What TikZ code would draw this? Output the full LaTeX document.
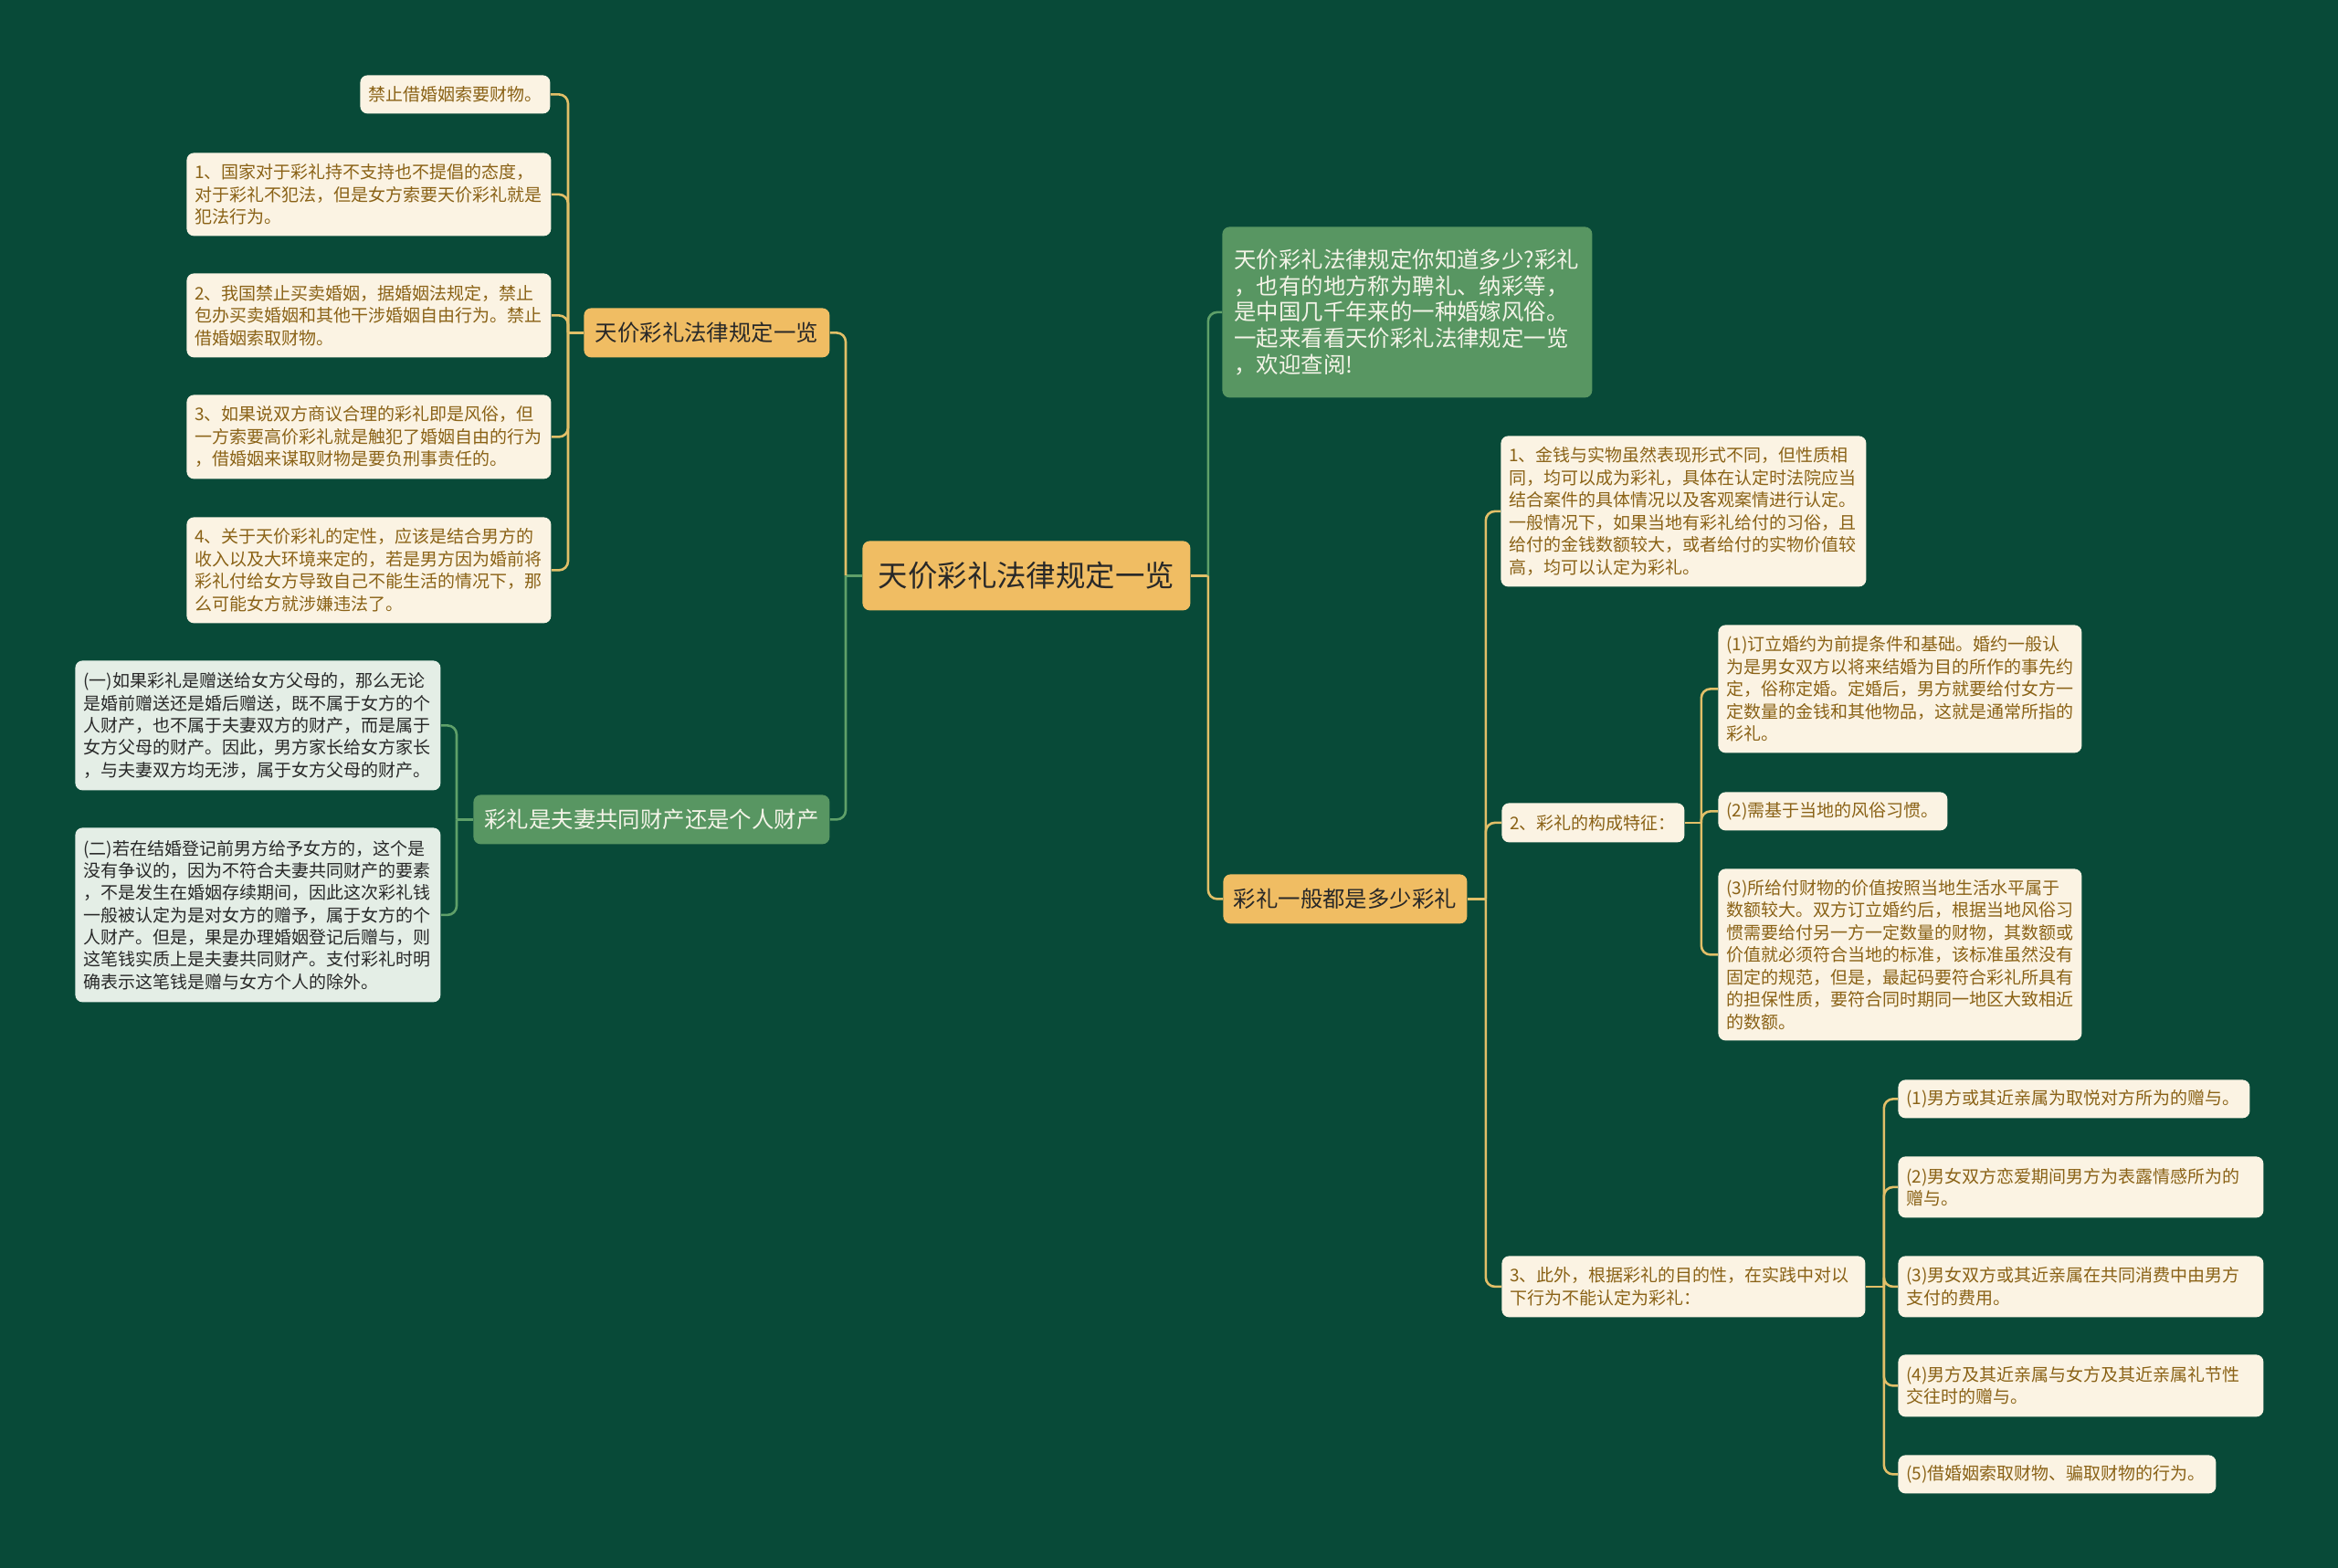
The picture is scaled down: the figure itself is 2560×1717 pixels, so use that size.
\documentclass[tikz,border=0pt]{standalone}
\usepackage{fontspec}
\setmainfont{Noto Sans CJK SC}
\definecolor{bgc}{RGB}{8,74,56}
\definecolor{orangec}{RGB}{240,189,99}
\definecolor{greenc}{RGB}{88,150,98}
\definecolor{creamc}{RGB}{251,243,227}
\definecolor{mintc}{RGB}{228,238,230}
\definecolor{goldline}{RGB}{226,191,104}
\definecolor{greenline}{RGB}{95,160,105}
\definecolor{goldtext}{RGB}{138,98,22}
\definecolor{darktext}{RGB}{40,40,40}
\definecolor{lighttext}{RGB}{244,244,232}
\begin{document}
\begin{tikzpicture}[x=0.5pt,y=-0.5pt,
  rootbox/.style={fill=orangec,text=darktext,rounded corners=4pt,inner sep=0pt,anchor=north west,
    font=\fontsize{16.2pt}{20pt}\selectfont,align=center},
  orbox/.style={fill=orangec,text=darktext,rounded corners=4pt,inner sep=0pt,anchor=north west,
    font=\fontsize{12.2pt}{15pt}\selectfont,align=center},
  grbox/.style={fill=greenc,text=lighttext,rounded corners=4pt,inner sep=0pt,anchor=north west,
    font=\fontsize{12.2pt}{15pt}\selectfont,align=center},
  leaf/.style={fill=creamc,text=goldtext,rounded corners=4pt,inner xsep=4.5pt,inner ysep=0pt,anchor=north west,
    font=\fontsize{9.5pt}{12.25pt}\selectfont,align=left},
  gleaf/.style={fill=mintc,text=darktext,rounded corners=4pt,inner xsep=4.5pt,inner ysep=0pt,anchor=north west,
    font=\fontsize{9.5pt}{12.15pt}\selectfont,align=left},
  gconn/.style={draw=goldline,line width=1.3pt,rounded corners=5pt},
  grconn/.style={draw=greenline,line width=1.3pt,rounded corners=5pt}
]
\fill[bgc] (0,0) rectangle (2560,1717);
\useasboundingbox (0,0) rectangle (2560,1717);

% main nodes
\node[rootbox,minimum width=179.5pt,minimum height=38pt] (root) at (944,592) {天价彩礼法律规定一览};
\node[orbox,minimum width=134.5pt,minimum height=27pt] (L1) at (639,337) {天价彩礼法律规定一览};
\node[grbox,minimum width=195pt,minimum height=27pt] (L2) at (518,870) {彩礼是夫妻共同财产还是个人财产};
\node[grbox,text width=189.5pt,inner xsep=6.5pt,minimum height=93.5pt,align=left,font=\fontsize{12.2pt}{14.35pt}\selectfont] (R1) at (1338,248)
 {天价彩礼法律规定你知道多少?彩礼\\，也有的地方称为聘礼、纳彩等，\\是中国几千年来的一种婚嫁风俗。\\一起来看看天价彩礼法律规定一览\\，欢迎查阅!};
\node[orbox,minimum width=133.5pt,minimum height=27pt] (R2) at (1339,957) {彩礼一般都是多少彩礼};

% left L1 children
\node[leaf,text width=95pt,minimum height=21pt] (c0) at (394,82) {禁止借婚姻索要财物。};
\node[leaf,text width=190.5pt,minimum height=45.5pt] (c1) at (204,167)
 {1、国家对于彩礼持不支持也不提倡的态度，\\对于彩礼不犯法，但是女方索要天价彩礼就是\\犯法行为。};
\node[leaf,text width=190.5pt,minimum height=46pt] (c2) at (204,299)
 {2、我国禁止买卖婚姻，据婚姻法规定，禁止\\包办买卖婚姻和其他干涉婚姻自由行为。禁止\\借婚姻索取财物。};
\node[leaf,text width=190.5pt,minimum height=46pt] (c3) at (204,432)
 {3、如果说双方商议合理的彩礼即是风俗，但\\一方索要高价彩礼就是触犯了婚姻自由的行为\\，借婚姻来谋取财物是要负刑事责任的。};
\node[leaf,text width=190.5pt,minimum height=58pt] (c4) at (204,566)
 {4、关于天价彩礼的定性，应该是结合男方的\\收入以及大环境来定的，若是男方因为婚前将\\彩礼付给女方导致自己不能生活的情况下，那\\么可能女方就涉嫌违法了。};

% left L2 children
\node[gleaf,text width=191pt,minimum height=71pt] (g1) at (82,723)
 {(一)如果彩礼是赠送给女方父母的，那么无论\\是婚前赠送还是婚后赠送，既不属于女方的个\\人财产，也不属于夫妻双方的财产，而是属于\\女方父母的财产。因此，男方家长给女方家长\\，与夫妻双方均无涉，属于女方父母的财产。};
\node[gleaf,text width=191pt,minimum height=95.5pt] (g2) at (82,906)
 {(二)若在结婚登记前男方给予女方的，这个是\\没有争议的，因为不符合夫妻共同财产的要素\\，不是发生在婚姻存续期间，因此这次彩礼钱\\一般被认定为是对女方的赠予，属于女方的个\\人财产。但是，果是办理婚姻登记后赠与，则\\这笔钱实质上是夫妻共同财产。支付彩礼时明\\确表示这笔钱是赠与女方个人的除外。};

% right R2 children
\node[leaf,text width=191pt,minimum height=82.5pt] (R2a) at (1643,477)
 {1、金钱与实物虽然表现形式不同，但性质相\\同，均可以成为彩礼，具体在认定时法院应当\\结合案件的具体情况以及客观案情进行认定。\\一般情况下，如果当地有彩礼给付的习俗，且\\给付的金钱数额较大，或者给付的实物价值较\\高，均可以认定为彩礼。};
\node[leaf,text width=91pt,minimum height=21.5pt] (R2b) at (1644,879) {2、彩礼的构成特征：};
\node[leaf,text width=190pt,minimum height=33.5pt] (R2c) at (1644,1375)
 {3、此外，根据彩礼的目的性，在实践中对以\\下行为不能认定为彩礼：};

% R2b children
\node[leaf,text width=190pt,minimum height=70pt] (b1) at (1881,684)
 {(1)订立婚约为前提条件和基础。婚约一般认\\为是男女双方以将来结婚为目的所作的事先约\\定，俗称定婚。定婚后，男方就要给付女方一\\定数量的金钱和其他物品，这就是通常所指的\\彩礼。};
\node[leaf,text width=116.5pt,minimum height=21pt] (b2) at (1881,867) {(2)需基于当地的风俗习惯。};
\node[leaf,text width=190pt,minimum height=94pt] (b3) at (1881,951)
 {(3)所给付财物的价值按照当地生活水平属于\\数额较大。双方订立婚约后，根据当地风俗习\\惯需要给付另一方一定数量的财物，其数额或\\价值就必须符合当地的标准，该标准虽然没有\\固定的规范，但是，最起码要符合彩礼所具有\\的担保性质，要符合同时期同一地区大致相近\\的数额。};

% R2c children
\node[leaf,text width=183.5pt,minimum height=21pt] (d1) at (2078,1182) {(1)男方或其近亲属为取悦对方所为的赠与。};
\node[leaf,text width=191pt,minimum height=33.5pt] (d2) at (2078,1266) {(2)男女双方恋爱期间男方为表露情感所为的\\赠与。};
\node[leaf,text width=191pt,minimum height=33.5pt] (d3) at (2078,1375) {(3)男女双方或其近亲属在共同消费中由男方\\支付的费用。};
\node[leaf,text width=191pt,minimum height=34pt] (d4) at (2078,1483) {(4)男方及其近亲属与女方及其近亲属礼节性\\交往时的赠与。};
\node[leaf,text width=165pt,minimum height=21pt] (d5) at (2078,1593) {(5)借婚姻索取财物、骗取财物的行为。};

% connectors: root left
\draw[grconn] (root.west) -- ++(-18,0) coordinate (tRL);
\draw[gconn] (tRL) |- (L1.east);
\draw[grconn] (tRL) |- (L2.east);
% root right
\draw[gconn] (root.east) -- ++(19,0) coordinate (tRR);
\draw[grconn] (tRR) |- (R1.west);
\draw[gconn] (tRR) |- (R2.west);
% L1 children
\draw[gconn] (L1.west) -- ++(-17,0) coordinate (tL1);
\foreach \n in {c0,c1,c2,c3,c4} \draw[gconn] (tL1) |- (\n.east);
% L2 children
\draw[grconn] (L2.west) -- ++(-18,0) coordinate (tL2);
\foreach \n in {g1,g2} \draw[grconn] (tL2) |- (\n.east);
% R2 children
\draw[gconn] (R2.east) -- ++(20,0) coordinate (tR2);
\foreach \n in {R2a,R2b,R2c} \draw[gconn] (tR2) |- (\n.west);
% R2b children
\draw[gconn] (R2b.east) -- ++(18,0) coordinate (tR2b);
\foreach \n in {b1,b2,b3} \draw[gconn] (tR2b) |- (\n.west);
% R2c children
\draw[gconn] (R2c.east) -- ++(20,0) coordinate (tR2c);
\foreach \n in {d1,d2,d3,d4,d5} \draw[gconn] (tR2c) |- (\n.west);
\end{tikzpicture}
\end{document}
